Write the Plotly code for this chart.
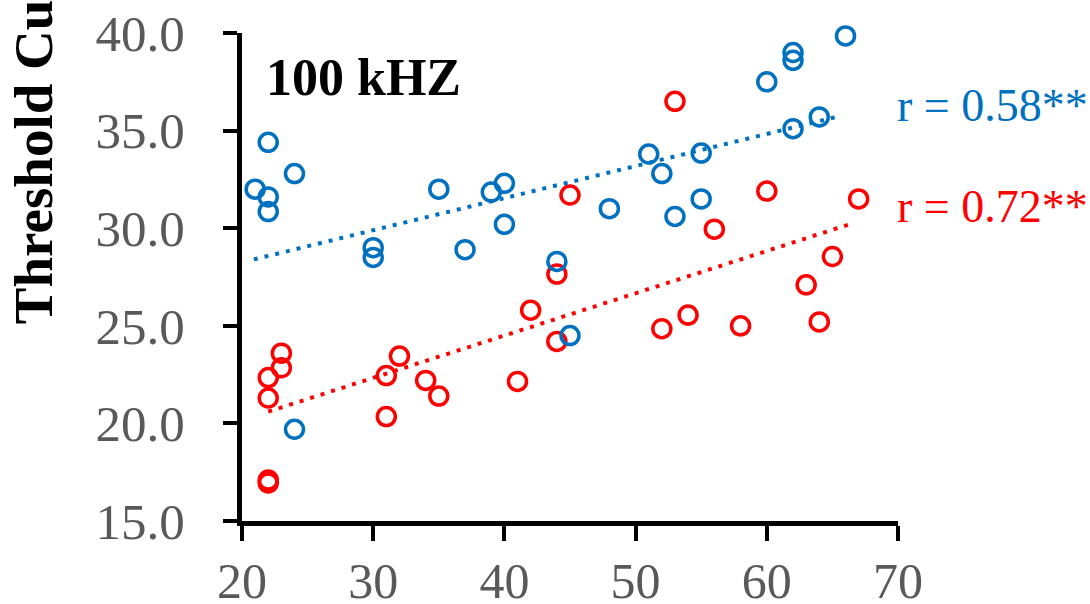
import plotly.graph_objects as go

# Blue series (x, y)
blue_x = [21, 22, 22, 22, 24, 24, 30, 30, 35, 37, 39, 40, 40, 44, 45, 48, 51, 52, 53, 55, 55, 60, 62, 62, 62, 64, 66]
blue_y = [32.0, 34.4, 31.6, 30.85, 32.8, 19.7, 29.0, 28.5, 32.0, 28.9, 31.85, 32.3, 30.2, 28.3, 24.5, 31.0, 33.8, 32.8, 30.6, 33.85, 31.5, 37.5, 39.0, 38.6, 35.1, 35.7, 39.85]

# Red series (x, y)
red_x = [22, 22, 22, 22, 23, 23, 31, 31, 32, 34, 35, 41, 42, 44, 44, 45, 52, 53, 54, 56, 58, 60, 63, 64, 65, 67]
red_y = [22.35, 21.3, 17.1, 16.95, 23.6, 22.85, 22.45, 20.35, 23.45, 22.2, 21.4, 22.15, 25.8, 24.2, 27.65, 31.7, 24.85, 36.5, 25.55, 29.95, 25.0, 31.9, 27.1, 25.2, 28.55, 31.5]

# Trend line endpoints
blue_trend_x = [20.9, 65.3]
blue_trend_y = [28.4, 35.7]
red_trend_x = [22.0, 66.3]
red_trend_y = [20.6, 30.2]

x_ticks = [20, 30, 40, 50, 60, 70]
y_ticks = [15, 20, 25, 30, 35, 40]

BLUE = "#0070C0"
RED = "#FF0000"
FONT = "Liberation Serif"

fig = go.Figure()
fig.add_trace(go.Scatter(x=red_x, y=red_y, mode="markers",
                         marker=dict(symbol="circle-open", size=18, color=RED, line=dict(width=3.5, color=RED)),
                         showlegend=False, cliponaxis=False))
fig.add_trace(go.Scatter(x=blue_x, y=blue_y, mode="markers",
                         marker=dict(symbol="circle-open", size=18, color=BLUE, line=dict(width=3.5, color=BLUE)),
                         showlegend=False, cliponaxis=False))
fig.add_trace(go.Scatter(x=blue_trend_x, y=blue_trend_y, mode="lines",
                         line=dict(color=BLUE, width=4, dash="4px,7px"), showlegend=False))
fig.add_trace(go.Scatter(x=red_trend_x, y=red_trend_y, mode="lines",
                         line=dict(color=RED, width=4, dash="4px,7px"), showlegend=False))

fig.add_annotation(x=21.7, y=37.7, xref="x", yref="y", text="<b>100 kHZ</b>", showarrow=False,
                   xanchor="left", yanchor="middle", font=dict(family=FONT, size=52, color="black"))
fig.add_annotation(x=69.75, y=36.3, xref="x", yref="y", text="r = 0.58**", showarrow=False,
                   xanchor="left", yanchor="middle", font=dict(family=FONT, size=46, color=BLUE))
fig.add_annotation(x=69.75, y=31.1, xref="x", yref="y", text="r = 0.72**", showarrow=False,
                   xanchor="left", yanchor="middle", font=dict(family=FONT, size=46, color=RED))
fig.add_annotation(x=-0.318, y=0.40, xref="paper", yref="paper", text="<b>Threshold Current</b>",
                   showarrow=False, textangle=-90, xanchor="center", yanchor="bottom",
                   font=dict(family=FONT, size=55, color="black"))

fig.update_xaxes(range=[20, 70], tickvals=x_ticks, ticktext=[str(v) for v in x_ticks],
                 showgrid=False, zeroline=False, showline=True, linecolor="black", linewidth=5,
                 ticks="outside", ticklen=15, tickwidth=4, tickcolor="black", automargin=False,
                 ticklabelstandoff=-3,
                 tickfont=dict(family=FONT, size=50, color="#595959"))
fig.update_yaxes(range=[15, 40], tickvals=y_ticks, ticktext=[f"{v:.1f}" for v in y_ticks],
                 showgrid=False, zeroline=False, showline=True, linecolor="black", linewidth=5,
                 ticks="outside", ticklen=14, tickwidth=4, tickcolor="black", ticklabelstandoff=28,
                 automargin=False,
                 tickfont=dict(family=FONT, size=51, color="#595959"))

fig.update_layout(width=1090, height=604, margin=dict(l=242, r=192, t=33, b=83, autoexpand=False),
                  plot_bgcolor="white", paper_bgcolor="white", showlegend=False)

fig.write_html("out.html")
